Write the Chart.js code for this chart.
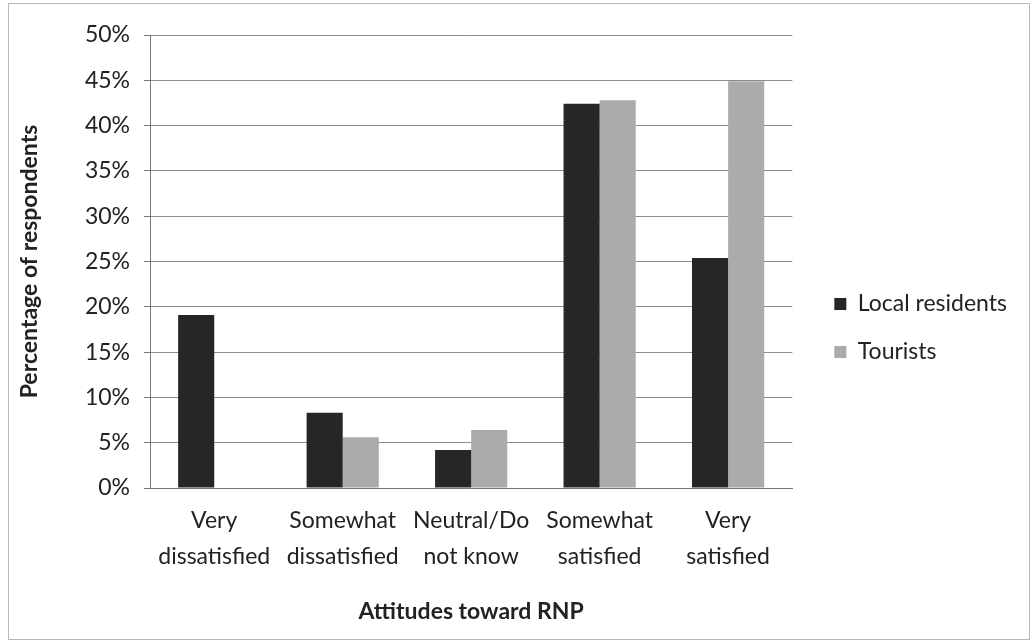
<!DOCTYPE html>
<html>
<head>
<meta charset="utf-8">
<script src="https://cdn.jsdelivr.net/npm/chart.js@4"></script>
<style>
  html, body { margin: 0; padding: 0; background: #fff; }
  #wrap { position: absolute; left: 0; top: 0; width: 1033px; height: 643px; }
  #frame { position: absolute; left: 8px; top: 3px; width: 1022px; height: 637px; border: 1px solid #b8b8b8; box-sizing: border-box; pointer-events: none; }
</style>
</head>
<body>
<div id="wrap">
  <canvas id="chart" width="1033" height="643"></canvas>
  <div id="frame"></div>
</div>
<script>
// categories and values (percent of respondents)
var categories = [
  ["Very", "dissatisfied"],
  ["Somewhat", "dissatisfied"],
  ["Neutral/Do", "not know"],
  ["Somewhat", "satisfied"],
  ["Very", "satisfied"]
];
var localResidents = [19.1, 8.3, 4.2, 42.4, 25.4];
var tourists = [0, 5.6, 6.4, 42.8, 44.9];

Chart.defaults.font.family = "Lato, 'Open Sans', sans-serif";
Chart.defaults.color = "#222";

// push the legend a little further away from the plot, and up a bit
var legendGap = {
  id: "legendGap",
  afterLayout: function (chart) {
    chart.legend.left += 17;
    chart.legend.right += 17;
    chart.legend.top -= 6;
    chart.legend.bottom -= 6;
  }
};

var ctx = document.getElementById("chart").getContext("2d");
var chart = new Chart(ctx, {
  type: "bar",
  data: {
    labels: categories,
    datasets: [
      {
        label: "Local residents",
        data: localResidents,
        backgroundColor: "#262626",
        categoryPercentage: 0.562,
        barPercentage: 1.0
      },
      {
        label: "Tourists",
        data: tourists,
        backgroundColor: "#ababab",
        categoryPercentage: 0.562,
        barPercentage: 1.0
      }
    ]
  },
  plugins: [legendGap],
  options: {
    responsive: false,
    animation: false,
    layout: { padding: { left: 10, top: 35, right: 33, bottom: 10 } },
    plugins: {
      tooltip: { enabled: false },
      legend: {
        position: "right",
        align: "center",
        labels: {
          boxWidth: 12,
          boxHeight: 12,
          padding: 25,
          color: "#222",
          font: { size: 23 }
        }
      }
    },
    scales: {
      x: {
        grid: { display: false, drawTicks: false },
        border: { color: "#777", width: 1 },
        ticks: { font: { size: 23, lineHeight: 1.55 }, color: "#222", padding: 15, maxRotation: 0, autoSkip: false },
        title: {
          display: true,
          text: "Attitudes toward RNP",
          font: { size: 23, weight: "bold" },
          color: "#222",
          padding: { top: 0, bottom: 8 }
        },
        afterFit: function (scale) { scale.height = 145; }
      },
      y: {
        min: 0,
        max: 50,
        ticks: {
          stepSize: 5,
          font: { size: 23 },
          color: "#222",
          padding: 14,
          callback: function (v) { return v + "%"; }
        },
        grid: { color: "#8c8c8c", lineWidth: 1, tickLength: 6, tickColor: "#777" },
        border: { color: "#777", width: 1 },
        title: {
          display: true,
          text: "Percentage of respondents",
          font: { size: 23, weight: "bold" },
          color: "#222",
          padding: { top: 6, bottom: 0 }
        },
        afterFit: function (scale) { scale.width = 140; }
      }
    }
  }
});
</script>
</body>
</html>
